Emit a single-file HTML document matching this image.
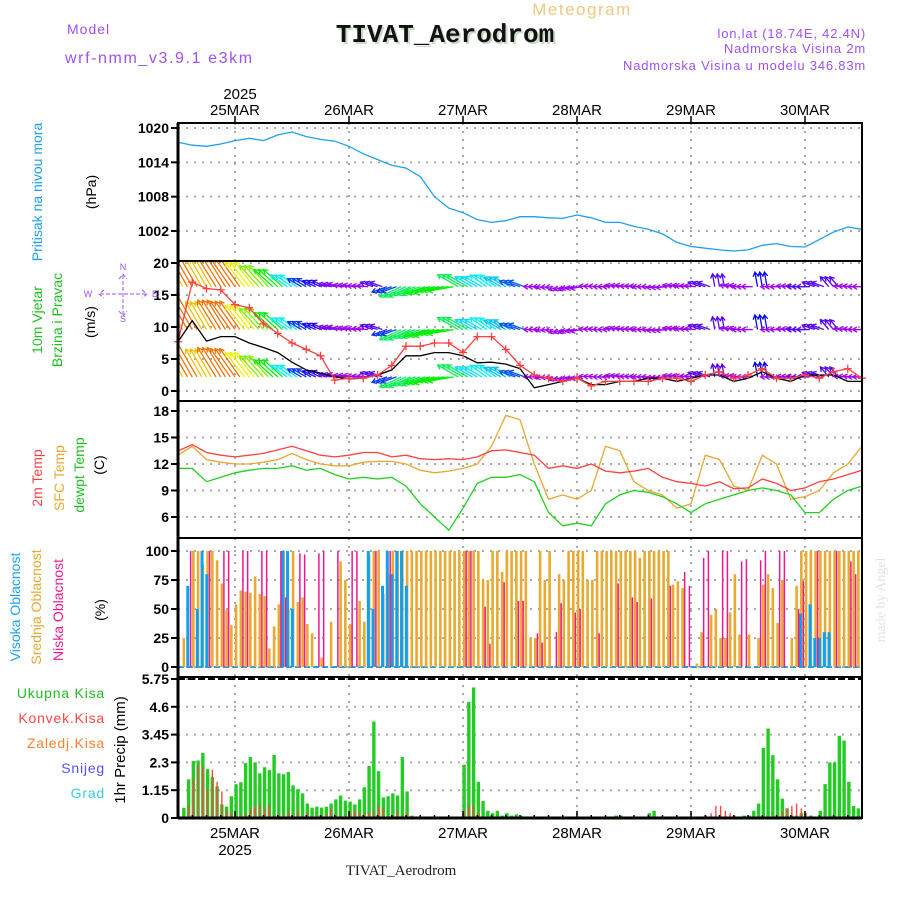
<!DOCTYPE html>
<html><head><meta charset="utf-8">
<style>
html,body{margin:0;padding:0;background:#fff;}
svg{display:block;font-family:"Liberation Sans",sans-serif;}
</style></head>
<body>
<svg id="chart" width="900" height="900" viewBox="0 0 900 900" xmlns="http://www.w3.org/2000/svg">
<text x="582" y="15" font-size="17" fill="#f0c880" text-anchor="middle" letter-spacing="1.5">Meteogram</text>
<text x="67" y="34" font-size="14" fill="#a050f0" letter-spacing="1">Model</text>
<text x="65" y="63" font-size="16" fill="#a050f0" letter-spacing="1.6">wrf-nmm_v3.9.1 e3km</text>
<text x="447" y="44" font-family="Liberation Mono, monospace" font-weight="bold" font-size="26" fill="#c8dcc8" text-anchor="middle">TIVAT_Aerodrom</text>
<text x="445" y="42" font-family="Liberation Mono, monospace" font-weight="bold" font-size="26" fill="#111" text-anchor="middle">TIVAT_Aerodrom</text>
<text x="866" y="38" font-size="13" fill="#a050f0" text-anchor="end" letter-spacing="0.8">lon,lat (18.74E, 42.4N)</text>
<text x="866" y="53" font-size="13" fill="#a050f0" text-anchor="end" letter-spacing="0.8">Nadmorska Visina 2m</text>
<text x="866" y="70" font-size="13" fill="#a050f0" text-anchor="end" letter-spacing="0.8">Nadmorska Visina u modelu 346.83m</text>
<text x="401" y="875" font-family="Liberation Serif, serif" font-size="15" fill="#222" text-anchor="middle">TIVAT_Aerodrom</text>
<text transform="translate(885,600) rotate(-90)" font-size="14" fill="#dfe6df" text-anchor="middle" font-family="Liberation Serif, serif">made by Angel</text>
<g id="g"></g>
</svg>
<script>
// ---------- data ----------
const dayLabels = ["25MAR","26MAR","27MAR","28MAR","29MAR","30MAR"];
const pressTicks = [1002,1008,1014,1020];
const windTicks = [0,5,10,15,20];
const tempTicks = [6,9,12,15,18];
const cloudTicks = [0,25,50,75,100];
const precipTicks = [0,1.15,2.3,3.45,4.6,5.75];
// 3-hourly series from 24MAR 12UTC
const pressure = [1017.5,1017,1016.8,1017.2,1017.8,1018.2,1017.8,1018.8,1019.3,1018.5,1018,1017.7,1016.8,1015.5,1014.5,1013.5,1013,1011.5,1008,1006,1005.2,1004,1003.5,1003.8,1004.5,1004.5,1004.3,1004.2,1004.8,1004.3,1003.5,1003.5,1002.8,1002.3,1001.5,1000,999.3,999,998.7,998.5,998.7,999.5,999.8,999.3,999.2,1000.5,1001.8,1002.7,1002.3];
const windSpeed = [7.7,11,7.8,8.5,8.5,7.5,6.8,6,4.5,3.3,2.8,2.2,1.9,2,2.5,3.3,5.5,5.5,6,6,5.5,4.4,4.5,4.2,3.5,0.5,1,1.5,2,1,1,1.5,1.5,2,2,1.5,2,2.5,2.5,1.5,2,3,2,1.5,2.5,2.5,2.5,1.5,1.5];
const windGust = [7.7,17,16,15.8,13.5,13,10.5,9,7.5,6.5,5.5,1.7,2,2,2.5,4,7,7,7.5,7.5,6,8.5,8.5,6.5,4,2.5,2,1.5,2,0.8,1.5,1.5,1.5,1.5,2,2,1.5,2.5,3,2,2.5,3.5,2,2,2.5,2,3,3.5,2];
const windDir = [120,120,120,122,125,128,132,138,145,150,155,165,170,175,160,200,205,200,195,190,150,150,145,150,160,180,185,200,190,175,180,170,175,180,185,170,175,160,100,170,180,100,180,175,180,160,130,175,180];
const temp2m = [13.5,14.2,13.3,13,12.8,13,13.2,13.6,14,13.5,13,12.8,13,13.3,13.3,12.8,13,12.6,12.5,12.6,12.5,12.8,13.5,13.6,13.3,13,11.5,11.8,11.5,12,11.2,11,11.2,11.5,10.5,10,9.8,9.5,10,9.2,9.3,10.3,9.8,9,9.3,10,10.3,10.8,11.3];
const tempSfc = [13,14,12.5,12.2,12,12,12.2,12.5,13.2,12.5,12,11.8,11.8,12.2,12.3,12.3,12,11.3,11,11.2,11.5,12,14,17.5,17,12,8,8.5,8,9,14,13.5,10,9,8.5,7,7.5,13,12.5,9.5,9,13,12,8,8.3,9,11,12,14];
const dewpoint = [11.5,11.5,10,10.5,11,11.3,11.5,11.5,11.8,11.3,11.5,10.8,10.3,10.5,10.3,10.5,9.5,7.5,6,4.5,7,9.8,10.5,10.5,10.8,10,6.5,5,5.3,5,7.5,8.5,9,8.8,8.3,7.5,6.5,7.5,8,8.5,9,9.3,9,8.5,6.5,6.5,8,9,9.5];
// hourly series
const cloudMid = [0,25,0,100,100,88,100,100,92,72,49,36,54,66,65,64,78,63,61,16,35,54,100,50,100,56,60,37,29,0,8,0,39,0,91,75,37,0,57,39,97,100,100,63,80,
100,100,100,100,100,100,100,100,100,100,100,100,100,100,100,100,100,100,100,
75,75,100,100,82,100,100,100,100,100,
25,25,100,75,100,0,80,75,100,100,100,100,75,75,
100,100,100,100,100,100,100,100,100,94,100,100,100,100,100,100,
71,74,68,0,0,3,30,0,45,50,25,25,47,80,28,0,28,0,25,71,80,68,38,75,0,25,70,
100,100,100,100,100,100,100,100,100,100,100,100,100];
const cloudLowHours = [2,6,9,10,13,14,17,18,21,22,25,26,29,30,33,36,37,41,44,60,61,64,65,68,71,72,75,76,79,80,83,84,88,92,95,96,99,103,106,107,110,111,114,115,118,119,122,123,126,127,130,131,134,138,141,142];
const cloudLowVals = [100,100,100,100,100,100,100,100,100,60,98,97,98,100,100,100,100,100,100,100,100,52,20,73,57,57,29,21,30,55,47,50,29,72,60,56,59,70,82,70,94,100,100,100,91,93,92,100,100,100,50,74,100,100,91,80];
const cloudHighHours = [2,4,5,6,22,23,24,40,41,43,44,45,46,47,48,131,133,134,135,136,137];
const cloudHighVals = [70,50,100,80,100,100,50,100,50,70,100,80,100,100,70,46,54,25,25,30,30];
const precipTotal = [0,0.42,1.6,2.36,2.38,2.69,2.02,1.69,1.31,0.56,0.47,0.9,1.4,1.48,2.27,2.52,2.3,1.85,2.1,1.98,2.61,1.85,1.81,1.9,1.35,1.19,1.02,0.6,0.43,0.47,0.43,0.47,0.6,0.77,0.93,0.72,0.68,0.56,0.77,1.27,2.15,3.99,1.94,0.85,0.9,1.02,0.93,2.52,1.1,0.1,
0,0,0,0,0,0,0,0,0,0,
2.2,4.8,5.4,1.5,0.7,0.3,0.2,0.3,0.1,0.2,0.1,0.15,0.1,0.05,
0,0,0,0,0,0,0,0,0,0,0,0,0,0,0,0,0,0,
0.1,0.1,0.05,0,0,0,0,0.2,0.3,
0,0,0,0,0,0,0,0,0,0,0,0,0,0,0,0,0,0,
0.1,0.1,0.3,0.6,2.9,3.7,2.6,1.6,0.8,0.4,0.1,0.1,0.2,0,0.1,0,0.3,
1.4,2.3,2.3,3.4,3.2,1.5,0.5,0.4];
const precipConv = [0,0.05,0.5,1.6,2.2,2.1,1.2,2.0,1.5,1.1,0.3,0.2,0.1,0.1,
0.15,0.4,0.45,0.55,0.4,0.5,0.1,0.15,0.1,0.3,0.1,0.3,0.05,0.2,0.05,0.1,0.1,0.15,0.4,0.1,0.1,0.1,0.2,0.3,0.25,0.2,0.2,0.3,0.5,0.4,0.05,0.1,0.3,0.1,0.2,0.05,
0,0,0,0,0,0,0,0,0,0,
0.3,0.5,0.5,0.2,
0,0,0,0,0,0,0,0,0,0,0,0,0,0,0,0,0,0,0,0,0,0,0,0,0,0,0,0,0,0,0,0,0,0,0,0,0,0,0,0,0,0,0,0,0,0,0,
0.1,0.2,0.5,0.5,0.3,0.2,0.1,0,
0,0,0,0,0,0,0,0,
0.3,0.4,0.5,0.6,0.4,0.2,0.1];

// ---------- layout ----------
const X0=178, X1=862, PXH=4.75; // px per hour, hour 0 = 24MAR 12UTC
const xH = h => X0 + h*PXH;
const NS="http://www.w3.org/2000/svg";
const G=document.getElementById('g');
function mk(tag, attrs, parent){const e=document.createElementNS(NS,tag);for(const k in attrs)e.setAttribute(k,attrs[k]);(parent||G).appendChild(e);return e;}
function lin(d0,d1,r0,r1){return v=>r0+(v-d0)*(r1-r0)/(d1-d0);}
const yP = lin(1020,1002,128,231);
const yW = lin(20,0,263,391);
const yT = lin(18,6,411,517);
const yC = lin(100,0,551,667);
const yR = lin(0,5.75,818,679);
const panels=[[123,261],[261,401],[401,538],[538,677],[677,818]];
const dayX = i => xH(12+24*i);

// grids
panels.forEach((p,pi)=>{
  dayLabels.forEach((d,i)=>{
    const l=mk('line',{x1:dayX(i),x2:dayX(i),y1:p[0],y2:p[1],stroke:'#aaa','stroke-width':2,'stroke-dasharray':'2 6'});
    
    
  });
});
function yAxis(ticks,fy,fmt,name){
  ticks.forEach(t=>{
    const y=fy(t);
    const gl=mk('line',{x1:X0,x2:X1,y1:y,y2:y,stroke:'#aaa','stroke-width':2,'stroke-dasharray':'2 6'});
    
    
    mk('line',{x1:X0-7,x2:X0,y1:y,y2:y,stroke:'#000','stroke-width':2});
    const tx=mk('text',{x:X0-9,y:y+5,'font-size':14,'font-weight':'bold','text-anchor':'end',fill:'#000'});
    tx.textContent=fmt(t);
    
    
  });
}
yAxis(pressTicks,yP,String,'pressure');
yAxis(windTicks,yW,String,'wind');
yAxis(tempTicks,yT,String,'temp');
yAxis(cloudTicks,yC,String,'cloud');
yAxis(precipTicks,yR,String,'precip');

function polyline(vals,stepH,fy,color,name,w){
  const pts=vals.map((v,i)=>xH(i*stepH).toFixed(1)+','+fy(v).toFixed(1)).join(' ');
  const pl=mk('polyline',{points:pts,fill:'none',stroke:color,'stroke-width':w||1.3});
  
  
  return pl;
}
// pressure
polyline(pressure,3,yP,'#1ea0f0','pressure-line');

// wind arrows
function windColor(s){const h=Math.max(28,Math.min(280,360-40*s));return 'hsl('+h+',95%,48%)';}
const rowBases=[2.2,9.6,16.3];
const clip=mk('clipPath',{id:'wclip'});mk('rect',{x:X0,y:261,width:X1-X0,height:140},clip);
const wg=mk('g',{'clip-path':'url(#wclip)'});
windSpeed.forEach((s,i)=>{
  for(let sub=0;sub<3;sub++){
    const h=i*3+sub-1; if(h<0||h>144) continue;
    const x=xH(h);
    const len=4+3.6*s, a=windDir[i]*Math.PI/180;
    rowBases.forEach(base=>{
      const y=yW(base);
      const x2=x+len*Math.cos(a), y2=y-len*Math.sin(a);
      const c=windColor(s);
      const ar=mk('path',{d:`M${x},${y}L${x2},${y2}M${x2+5*Math.cos(a+2.6)},${y2-5*Math.sin(a+2.6)}L${x2},${y2}L${x2+5*Math.cos(a-2.6)},${y2-5*Math.sin(a-2.6)}`,stroke:c,'stroke-width':1.3,fill:'none'},wg);
      
      
    });
  }
});
polyline(windSpeed,3,yW,'#000','wind-speed-line',1.3);
polyline(windGust,3,yW,'#ff4040','wind-gust-line',1.3);
windGust.forEach((v,i)=>{const x=xH(i*3),y=yW(v);
  const m=mk('path',{d:`M${x-4},${y}H${x+4}M${x},${y-4}V${y+4}`,stroke:'#ff4040','stroke-width':1.3});
  
  
});

// temps
polyline(tempSfc,3,yT,'#e8a830','sfc-temp-line');
polyline(temp2m,3,yT,'#ff4040','temp-2m-line');
polyline(dewpoint,3,yT,'#20d020','dewpoint-line');

// clouds
const zl=mk('line',{x1:X0,x2:X1,y1:yC(0),y2:yC(0),stroke:'#1ea0f0','stroke-width':2,'stroke-dasharray':'6 3'});


cloudMid.forEach((v,h)=>{ if(!v) return;
  const x=xH(h)+1;
  const r=mk('rect',{x:x-1.2,y:yC(v),width:2.6,height:yC(0)-yC(v),fill:'#e8aa30'});
  
  
});
cloudHighHours.forEach((h,i)=>{const v=cloudHighVals[i];const x=xH(h)+1;
  const r=mk('rect',{x:x-2.2,y:yC(v),width:3,height:yC(0)-yC(v),fill:'#10a0f0'});
  
  
});
cloudLowHours.forEach((h,i)=>{const v=cloudLowVals[i];const x=xH(h)+1;
  const r=mk('rect',{x:x+1.4,y:yC(v),width:1.5,height:yC(0)-yC(v),fill:'#f01890'});
  
  
});

// precip
precipTotal.forEach((v,h)=>{ if(!v) return;
  const x=xH(h)+1;
  const r=mk('rect',{x:x-1.6,y:yR(v),width:3.4,height:yR(0)-yR(v),fill:'#22cc22'});
  
  
});
precipConv.forEach((v,h)=>{ if(!v) return;
  const x=xH(h)+1;
  const r=mk('rect',{x:x-0.6,y:yR(v),width:1.4,height:yR(0)-yR(v),fill:'#ff4444'});
  
  
});
mk('line',{x1:X0,x2:X1,y1:yR(5.75),y2:yR(5.75),stroke:'#000','stroke-width':2,'stroke-dasharray':'7 3'});

// frames
panels.forEach(p=>{
  mk('rect',{x:X0,y:p[0],width:X1-X0,height:p[1]-p[0],fill:'none',stroke:'#000','stroke-width':2});
});
mk('line',{x1:X0,x2:X0,y1:123,y2:818,stroke:'#000','stroke-width':3});
mk('line',{x1:X0,x2:X1,y1:818,y2:818,stroke:'#000','stroke-width':3});
// x ticks
for(let h=0;h<=144;h+=3){mk('line',{x1:xH(h),x2:xH(h),y1:818,y2:h%24==12?811:815,stroke:'#000','stroke-width':1.5});}
dayLabels.forEach((d,i)=>{
  const x=dayX(i);
  mk('line',{x1:x,x2:x,y1:116,y2:123,stroke:'#000','stroke-width':1.5});
  const t=mk('text',{x:x,y:115,'font-size':15,'text-anchor':'middle',fill:'#000'});t.textContent=d;
  
  
  const b=mk('text',{x:x,y:838,'font-size':15,'text-anchor':'middle',fill:'#000'});b.textContent=d;
  
  
});
const y1=mk('text',{x:dayX(0)+5,y:99,'font-size':15,'text-anchor':'middle',fill:'#000'});y1.textContent='2025';
const y2=mk('text',{x:dayX(0),y:855,'font-size':15,'text-anchor':'middle',fill:'#000'});y2.textContent='2025';

// side labels
function vlab(x,y,txt,color,name,size){
  const t=mk('text',{transform:`translate(${x},${y}) rotate(-90)`,'font-size':size||14,fill:color,'text-anchor':'middle'});
  t.textContent=txt;
  
  
}
vlab(42,192,'Pritisak na nivou mora','#1ea0f0','pressure-axis-title');
vlab(96,192,'(hPa)','#000','pressure-unit');
vlab(42,320,'10m Vjetar','#20c020','wind-axis-title');
vlab(62,320,'Brzina i Pravac','#20c020','wind-axis-subtitle');
vlab(95,322,'(m/s)','#000','wind-unit');
vlab(42,478,'2m Temp','#ff4040','temp-2m-title');
vlab(64,478,'SFC Temp','#e8a830','sfc-temp-title');
vlab(84,475,'dewpt Temp','#20c020','dewpoint-title');
vlab(104,465,'(C)','#000','temp-unit');
vlab(20,607,'Visoka Oblacnost','#1ea0f0','high-cloud-title');
vlab(41,607,'Srednja Oblacnost','#e8a830','mid-cloud-title');
vlab(63,610,'Niska Oblacnost','#f01890','low-cloud-title');
vlab(105,610,'(%)','#000','cloud-unit');
vlab(125,750,'1hr Precip (mm)','#000','precip-axis-title',15);
// compass
const cp=[['N',123,270],['W',88,297],['E',155,297],['S',123,322]];
cp.forEach(c=>{const t=mk('text',{x:c[1],y:c[2],'font-size':9,fill:'#a050f0','text-anchor':'middle'});t.textContent=c[0];});
mk('path',{d:'M123,275V316M100,294H148M119,279L123,274L127,279M119,311L123,316L127,311M104,290L99,294L104,298M142,290L147,294L142,298',stroke:'#a050f0','stroke-width':1,fill:'none','stroke-dasharray':'4 2'});
// precip legend
const leg=[['Ukupna Kisa','#20c020',698],['Konvek.Kisa','#ff4444',723],['Zaledj.Kisa','#ff8030',748],['Snijeg','#5050ff',773],['Grad','#30d0e0',798]];
leg.forEach(l=>{const t=mk('text',{x:105,y:l[2],'font-size':14,fill:l[1],'text-anchor':'end','letter-spacing':'0.8'});t.textContent=l[0];
  
  
});
</script>
</body></html>
